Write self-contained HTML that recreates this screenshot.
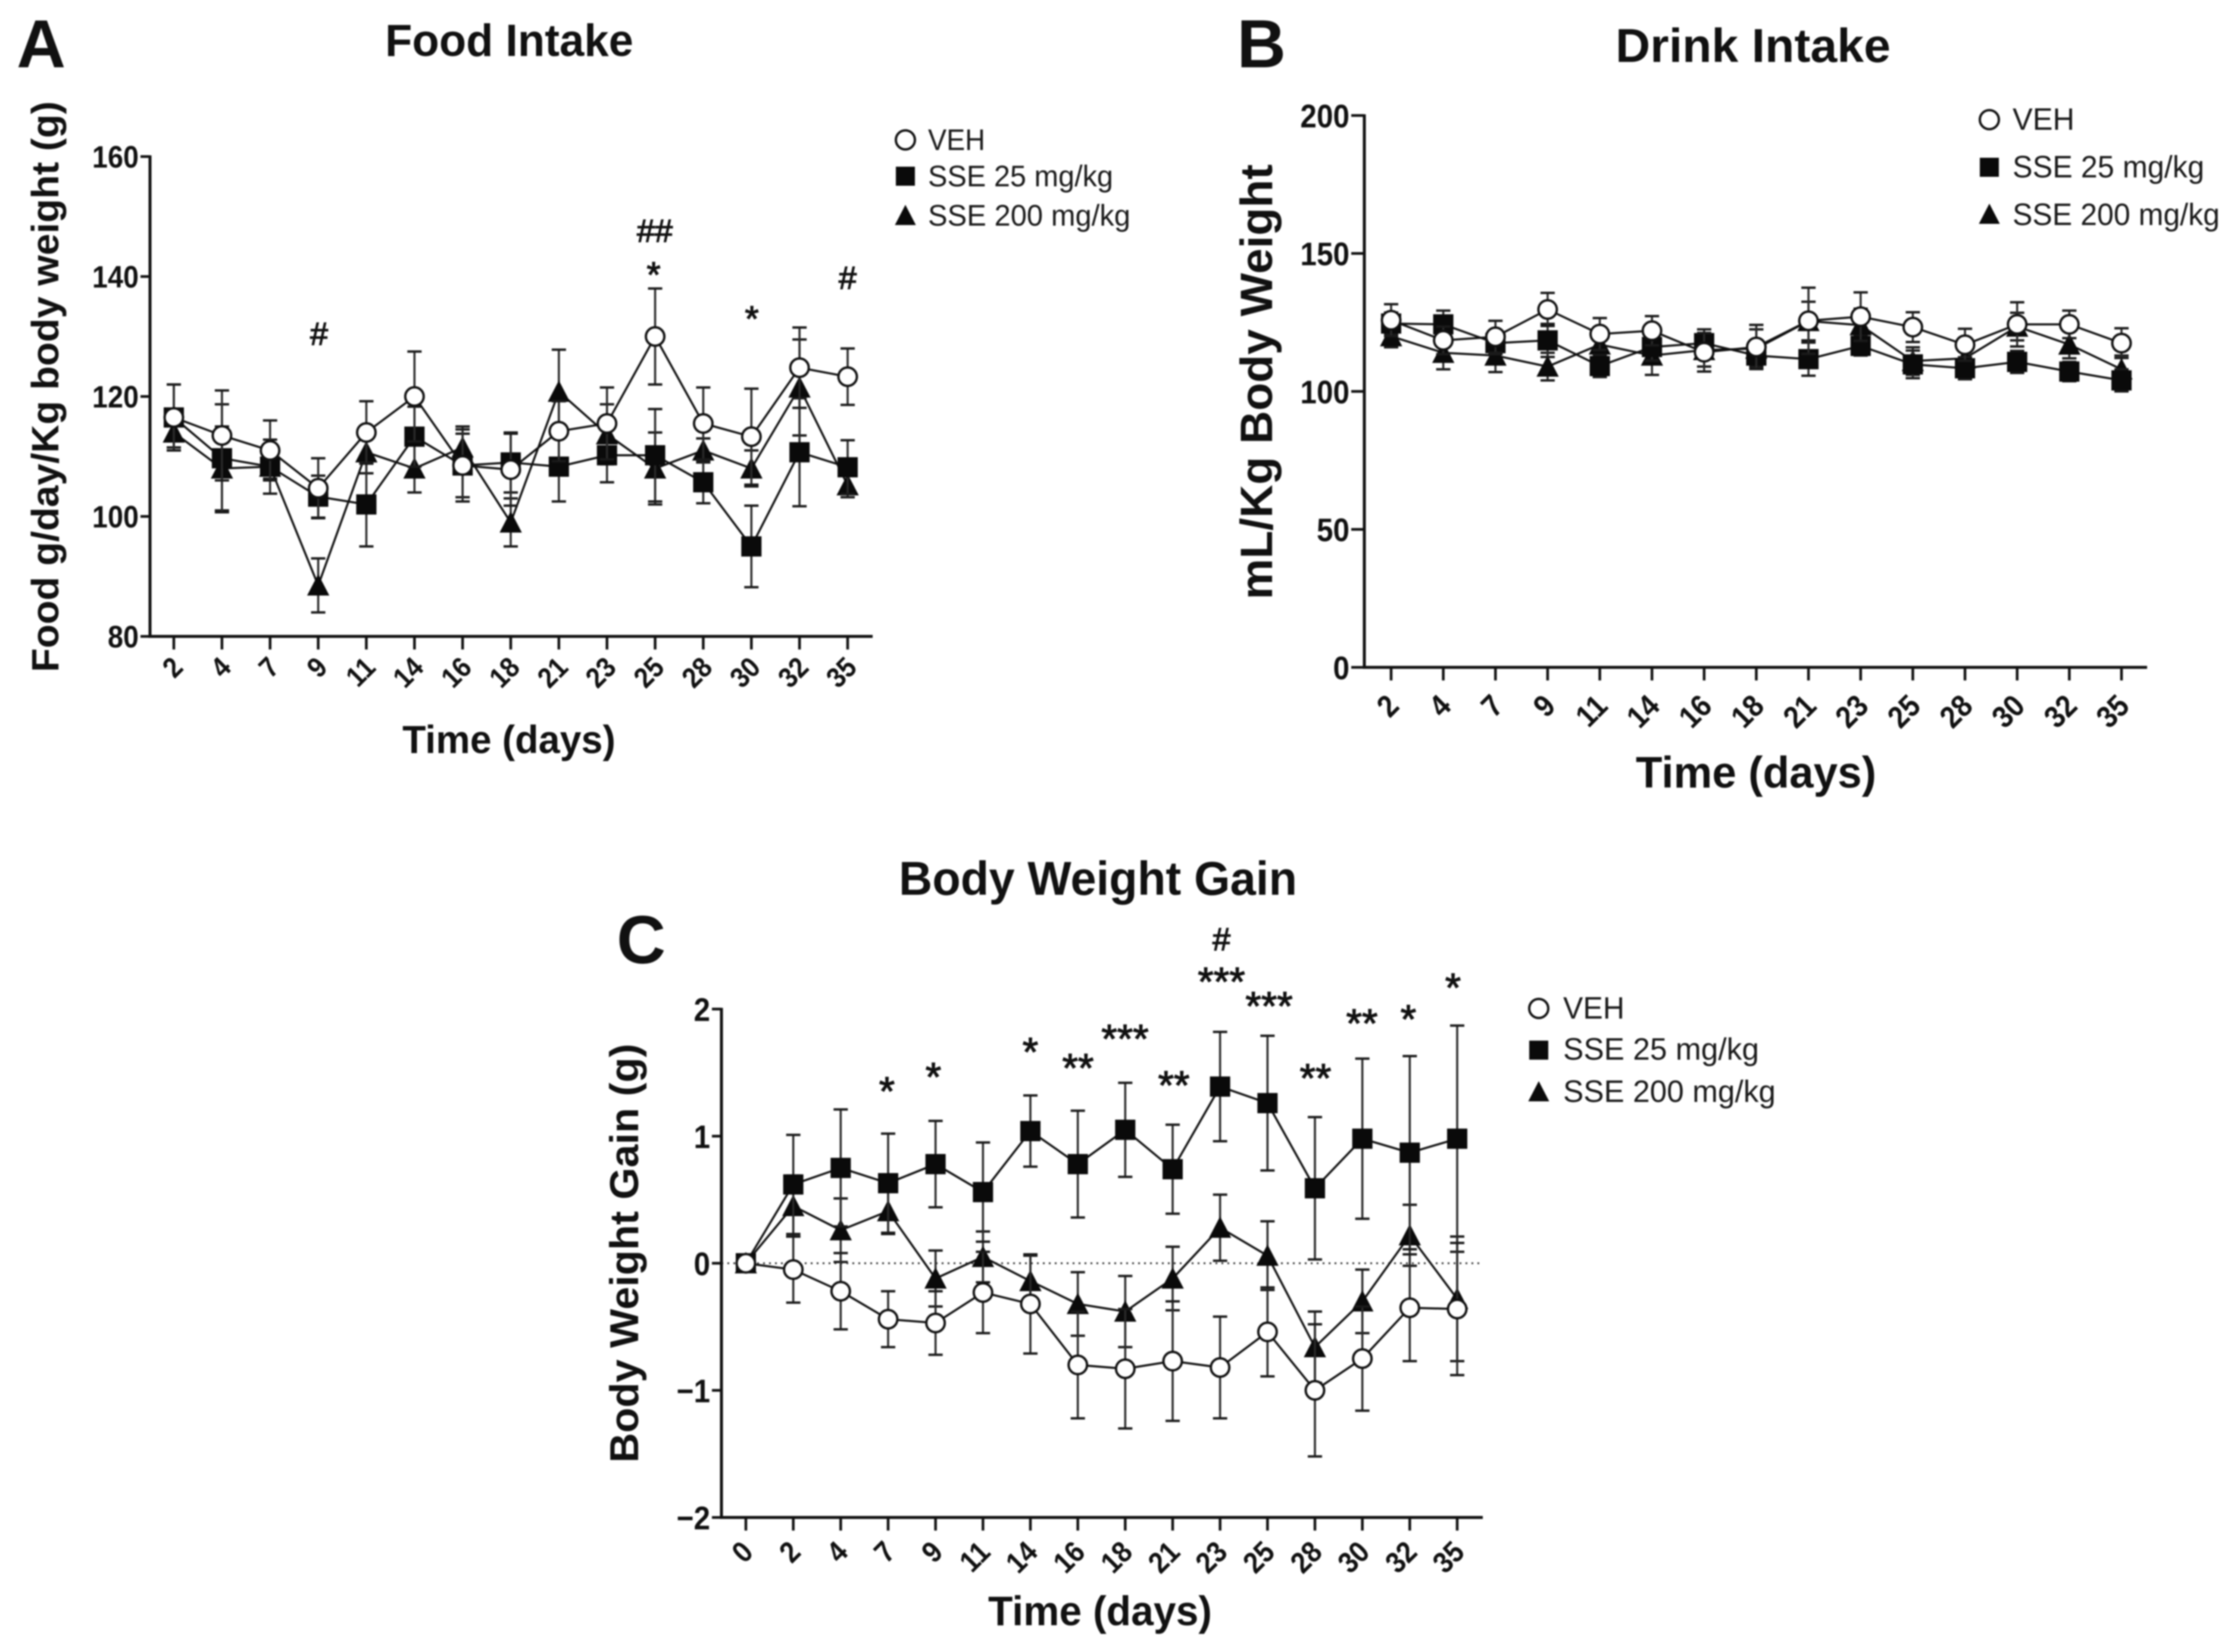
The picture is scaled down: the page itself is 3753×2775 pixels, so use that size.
<!DOCTYPE html>
<html lang="en">
<head>
<meta charset="utf-8">
<title>Food Intake, Drink Intake and Body Weight Gain</title>
<style>
  html, body { margin: 0; padding: 0; background: #fff; }
  svg { display: block; filter: blur(1.4px); font-family: "Liberation Sans", Arial, sans-serif; fill: #111; }
  .panel-letter { font-size: 114px; font-weight: 700; }
  .title { font-weight: 700; }
  .axis-title { font-weight: 700; }
  .legend { fill: #1a1a1a; }
  .note { fill: #111; text-anchor: middle; stroke: #111; stroke-width: 1.5px; }
  .tick { font-weight: 700; }
</style>
</head>
<body>
<svg id="figure" xmlns="http://www.w3.org/2000/svg" width="3753" height="2775" viewBox="0 0 3753 2775">
  <rect width="3753" height="2775" fill="#fff"/>
  <g id="figure-content" transform="translate(-4,-3)">

  <!-- Panel A -->
  <g id="panel-a">
    <text class="panel-letter" x="32" y="116">A</text>
    <text class="title" x="651" y="97" font-size="76" textLength="417" lengthAdjust="spacingAndGlyphs">Food Intake</text>
    <text class="axis-title" transform="translate(102,1132) rotate(-90)" font-size="64" textLength="959" lengthAdjust="spacingAndGlyphs">Food g/day/Kg body weight (g)</text>
    <text class="axis-title" x="680" y="1268" font-size="66" textLength="358" lengthAdjust="spacingAndGlyphs">Time (days)</text>
    <text class="legend" x="1563" y="255" font-size="50" textLength="96" lengthAdjust="spacingAndGlyphs">VEH</text>
    <text class="legend" x="1563" y="316" font-size="50" textLength="311" lengthAdjust="spacingAndGlyphs">SSE 25 mg/kg</text>
    <text class="legend" x="1563" y="382" font-size="50" textLength="340" lengthAdjust="spacingAndGlyphs">SSE 200 mg/kg</text>
    <text class="note" x="540" y="582" font-size="54">#</text>
    <text class="note" x="1104" y="409" font-size="54">##</text>
    <text class="note" x="1102" y="485" font-size="60">*</text>
    <text class="note" x="1267" y="559" font-size="60">*</text>
    <text class="note" x="1428" y="488" font-size="54">#</text>
  </g>

  <!-- Panel B -->
  <g id="panel-b">
    <text class="panel-letter" x="2082" y="116">B</text>
    <text class="title" x="2718" y="107" font-size="80" textLength="462" lengthAdjust="spacingAndGlyphs">Drink Intake</text>
    <text class="axis-title" transform="translate(2141,1010) rotate(-90)" font-size="76" textLength="731" lengthAdjust="spacingAndGlyphs">mL/Kg Body Weight</text>
    <text class="axis-title" x="2752" y="1326" font-size="74" textLength="404" lengthAdjust="spacingAndGlyphs">Time (days)</text>
    <text class="legend" x="3385" y="221" font-size="52" textLength="104" lengthAdjust="spacingAndGlyphs">VEH</text>
    <text class="legend" x="3385" y="301" font-size="52" textLength="322" lengthAdjust="spacingAndGlyphs">SSE 25 mg/kg</text>
    <text class="legend" x="3385" y="381" font-size="52" textLength="348" lengthAdjust="spacingAndGlyphs">SSE 200 mg/kg</text>
  </g>

  <!-- Panel C -->
  <g id="panel-c">
    <text class="panel-letter" x="1040" y="1621">C</text>
    <text class="title" x="1514" y="1506" font-size="80" textLength="669" lengthAdjust="spacingAndGlyphs">Body Weight Gain</text>
    <text class="axis-title" transform="translate(1076,2460) rotate(-90)" font-size="68" textLength="704" lengthAdjust="spacingAndGlyphs">Body Weight Gain (g)</text>
    <text class="axis-title" x="1664" y="2733" font-size="70" textLength="376" lengthAdjust="spacingAndGlyphs">Time (days)</text>
    <text class="legend" x="2630" y="1714" font-size="52" textLength="103" lengthAdjust="spacingAndGlyphs">VEH</text>
    <text class="legend" x="2630" y="1783" font-size="52" textLength="329" lengthAdjust="spacingAndGlyphs">SSE 25 mg/kg</text>
    <text class="legend" x="2630" y="1854" font-size="52" textLength="357" lengthAdjust="spacingAndGlyphs">SSE 200 mg/kg</text>
    <text class="note" x="1494" y="1859" font-size="68">*</text>
    <text class="note" x="1572" y="1835" font-size="68">*</text>
    <text class="note" x="1735" y="1793" font-size="68">*</text>
    <text class="note" x="1815" y="1820" font-size="68">**</text>
    <text class="note" x="1894" y="1771" font-size="68">***</text>
    <text class="note" x="1976" y="1849" font-size="68">**</text>
    <text class="note" x="2056" y="1599" font-size="54">#</text>
    <text class="note" x="2056" y="1675" font-size="68">***</text>
    <text class="note" x="2136" y="1716" font-size="68">***</text>
    <text class="note" x="2214" y="1837" font-size="68">**</text>
    <text class="note" x="2292" y="1745" font-size="68">**</text>
    <text class="note" x="2370" y="1738" font-size="68">*</text>
    <text class="note" x="2445" y="1685" font-size="68">*</text>
  </g>
  </g>
</svg>

<script>
// Panel A data: Food Intake
const foodDays = ['2','4','7','9','11','14','16','18','21','23','25','28','30','32','35'];
const foodTicks = [80, 100, 120, 140, 160];
const foodVeh = [116.5,113.5,111,104.7,114,120,108.5,107.8,114.2,115.5,130,115.5,113.3,124.8,123.3];
const foodVehErr = [5.5,7.5,5,5,5.2,7.5,6,6,5,6,8,6,8,6.7,4.7];
const foodSse25 = [116.5,109.7,108.3,103.3,102,113.3,108.5,109,108.3,110.2,110.2,105.7,95,110.7,108.2];
const foodSse25Err = [5.5,9,4.5,3.5,7,5,5.3,5,5.8,4.5,7.7,3.5,6.8,9,4.5];
const foodSse200 = [114,108,108.3,88.5,110.7,108,111.5,99,120.8,113.7,108,111,108,121.5,105.2];
const foodSse200Err = [2.5,7,2,4.5,3.5,4,3.5,4,7,5,6,2,3,8,2];

// Panel B data: Drink Intake
const drinkDays = ['2','4','7','9','11','14','16','18','21','23','25','28','30','32','35'];
const drinkTicks = [0, 50, 100, 150, 200];
const drinkVeh = [125.8,118.5,119.8,129.7,120.8,122,114.2,116.1,125.6,127.1,123.3,116.9,124.3,124.3,117.5];
const drinkVehErr = [5.8,5,5.8,6,5.8,5.3,7,8,12,8.8,5.4,5.8,8,5,5.4];
const drinkSse25 = [124.6,124.3,117.5,118.5,109.2,116.1,117.5,113,111.7,116.5,109.8,108.4,110.7,107.2,104];
const drinkSse25Err = [4,5,4,6,4,5,5,4,6,3.5,5,4,4,3.5,4];
const drinkSse200 = [120,114,113,109,117,113,115,115.5,125.5,124,111,112,123.5,117,108];
const drinkSse200Err = [4,6,6,5,5,7,6,7,7,6,5,4,5,5,5];

// Panel C data: Body Weight Gain
const gainDays = ['0','2','4','7','9','11','14','16','18','21','23','25','28','30','32','35'];
const gainTicks = [-2, -1, 0, 1, 2];
const gainVeh = [0,-0.05,-0.22,-0.44,-0.47,-0.23,-0.32,-0.80,-0.83,-0.77,-0.82,-0.54,-1.0,-0.75,-0.35,-0.36];
const gainVehErr = [0,0.26,0.3,0.22,0.25,0.32,0.39,0.42,0.47,0.47,0.4,0.35,0.52,0.41,0.42,0.52];
const gainSse25 = [0,0.62,0.75,0.63,0.78,0.56,1.04,0.78,1.05,0.74,1.39,1.26,0.59,0.98,0.87,0.98];
const gainSse25Err = [0,0.39,0.46,0.39,0.34,0.39,0.28,0.42,0.37,0.35,0.43,0.53,0.56,0.63,0.76,0.89];
const gainSse200 = [0,0.45,0.26,0.41,-0.12,0.05,-0.14,-0.32,-0.38,-0.12,0.28,0.06,-0.66,-0.30,0.22,-0.28];
const gainSse200Err = [0,0.24,0.25,0.18,0.22,0.2,0.2,0.25,0.28,0.25,0.26,0.27,0.28,0.25,0.24,0.49];

const SVGNS = 'http://www.w3.org/2000/svg';

function make(tag, attrs, parent, txt) {
  const node = document.createElementNS(SVGNS, tag);
  for (const key in attrs) node.setAttribute(key, attrs[key]);
  if (txt !== undefined) node.textContent = txt;
  parent.appendChild(node);
  return node;
}

function drawMarker(kind, cx, cy, size, parent, name) {
  let m;
  if (kind === 'circle') {
    m = make('circle', { cx: cx, cy: cy, r: size, fill: '#fff', stroke: '#111', 'stroke-width': 4 }, parent);
  } else if (kind === 'square') {
    m = make('rect', { x: cx - size, y: cy - size, width: size * 2, height: size * 2, fill: '#0a0a0a' }, parent);
  } else {
    const h = size * 1.1;
    m = make('polygon', { points: (cx - h) + ',' + (cy + size) + ' ' + (cx + h) + ',' + (cy + size) + ' ' + cx + ',' + (cy - size - 2), fill: '#0a0a0a' }, parent);
  }
  
  
}

function drawSeries(parent, prefix, kind, vals, errs, xAt, yAt, size, capHalf) {
  const group = make('g', {}, parent);
  
  
  vals.forEach(function (v, i) {
    if (errs[i] === 0) return;
    const x = xAt(i);
    const stem = make('line', { x1: x, x2: x, y1: yAt(v + errs[i]), y2: yAt(v - errs[i]), stroke: '#2a2a2a', 'stroke-width': 3.5 }, group);
    
    
    [v + errs[i], v - errs[i]].forEach(function (e) {
      const cap = make('line', { x1: x - capHalf, x2: x + capHalf, y1: yAt(e), y2: yAt(e), stroke: '#1a1a1a', 'stroke-width': 4 }, group);
      
      
    });
  });
  const pts = vals.map(function (v, i) { return xAt(i) + ',' + yAt(v); }).join(' ');
  const line = make('polyline', { points: pts, fill: 'none', stroke: '#111', 'stroke-width': 3.5 }, group);
  
  
  vals.forEach(function (v, i) {
    drawMarker(kind, xAt(i), yAt(v), size, group, prefix + '-point');
  });
}

function drawAxes(parent, prefix, cats, ticks, xAt, yAt, g) {
  const axis = make('g', {}, parent);
  
  
  const yLine = make('line', { x1: g.left, x2: g.left, y1: g.top - 2, y2: g.bottom + 2.5, stroke: '#111', 'stroke-width': 5 }, axis);
  
  
  const xLine = make('line', { x1: g.left, x2: g.right, y1: g.bottom, y2: g.bottom, stroke: '#111', 'stroke-width': 5 }, axis);
  
  
  ticks.forEach(function (t) {
    const mark = make('line', { x1: g.left - g.tickLen, x2: g.left, y1: yAt(t), y2: yAt(t), stroke: '#111', 'stroke-width': 4.5 }, axis);
    
    
    const tx = g.left - g.tickLen - 3, ty = yAt(t) + g.yFont * 0.36;
    const lab = make('text', { class: 'tick', 'font-size': g.yFont, 'text-anchor': 'end', transform: 'translate(' + tx + ',' + ty + ') scale(0.9,1)' }, axis, t < 0 ? '\u2212' + Math.abs(t) : String(t));
    
    
  });
  cats.forEach(function (c, i) {
    const x = xAt(i);
    const mark = make('line', { x1: x, x2: x, y1: g.bottom, y2: g.bottom + 22, stroke: '#111', 'stroke-width': 4.5 }, axis);
    
    
    const ax = x + g.labDx, ay = g.bottom + g.labDy;
    const lab = make('text', { class: 'tick', 'font-size': g.xFont, 'text-anchor': 'end', transform: 'translate(' + ax + ',' + ay + ') rotate(-45) scale(0.9,1)' }, axis, c);
    
    
  });
}

function drawPanel(parentId, prefix, cats, ticks, yMin, yMax, g, series) {
  const parent = document.getElementById(parentId);
  const xAt = function (i) { return g.first + (g.last - g.first) * i / (cats.length - 1); };
  const yAt = function (v) { return g.bottom + (g.top - g.bottom) * (v - yMin) / (yMax - yMin); };
  if (g.zeroLine) {
    const zero = make('line', { x1: g.left, x2: g.right, y1: yAt(0), y2: yAt(0), stroke: '#333', 'stroke-width': 3, 'stroke-dasharray': '3 7' }, parent);
    
    
  }
  drawAxes(parent, prefix, cats, ticks, xAt, yAt, g);
  series.forEach(function (s) {
    drawSeries(parent, prefix + '-' + s.id, s.kind, s.vals, s.errs, xAt, yAt, s.kind === 'square' ? 17 : (s.kind === 'circle' ? 15.5 : 17), 12);
  });
  g.legend.forEach(function (l) {
    drawMarker(l.kind, g.legendX, l.y, 16, parent, prefix + '-legend-marker-' + l.kind);
  });
}

drawPanel('panel-a', 'food', foodDays, foodTicks, 80, 160,
  { left: 256, right: 1470, top: 266, bottom: 1072, first: 296, last: 1428, tickLen: 16, yFont: 52, xFont: 48, labDx: 18, labDy: 55,
    legendX: 1525, legend: [{ kind: 'circle', y: 238 }, { kind: 'square', y: 299 }, { kind: 'triangle', y: 365 }] },
  [{ id: 'sse200', kind: 'triangle', vals: foodSse200, errs: foodSse200Err },
   { id: 'sse25', kind: 'square', vals: foodSse25, errs: foodSse25Err },
   { id: 'veh', kind: 'circle', vals: foodVeh, errs: foodVehErr }]);

drawPanel('panel-b', 'drink', drinkDays, drinkTicks, 0, 200,
  { left: 2296, right: 3611, top: 197, bottom: 1124, first: 2341, last: 3568, tickLen: 22, yFont: 55, xFont: 52, labDx: 16, labDy: 68,
    legendX: 3346, legend: [{ kind: 'circle', y: 204 }, { kind: 'square', y: 284 }, { kind: 'triangle', y: 363 }] },
  [{ id: 'sse200', kind: 'triangle', vals: drinkSse200, errs: drinkSse200Err },
   { id: 'sse25', kind: 'square', vals: drinkSse25, errs: drinkSse25Err },
   { id: 'veh', kind: 'circle', vals: drinkVeh, errs: drinkVehErr }]);

drawPanel('panel-c', 'gain', gainDays, gainTicks, -2, 2,
  { left: 1216, right: 2495, top: 1698, bottom: 2552, first: 1257, last: 2452, tickLen: 16, yFont: 55, xFont: 50, labDx: 15, labDy: 61, zeroLine: true,
    legendX: 2589, legend: [{ kind: 'circle', y: 1697 }, { kind: 'square', y: 1767 }, { kind: 'triangle', y: 1837 }] },
  [{ id: 'sse200', kind: 'triangle', vals: gainSse200, errs: gainSse200Err },
   { id: 'sse25', kind: 'square', vals: gainSse25, errs: gainSse25Err },
   { id: 'veh', kind: 'circle', vals: gainVeh, errs: gainVehErr }]);
</script>
</body>
</html>
